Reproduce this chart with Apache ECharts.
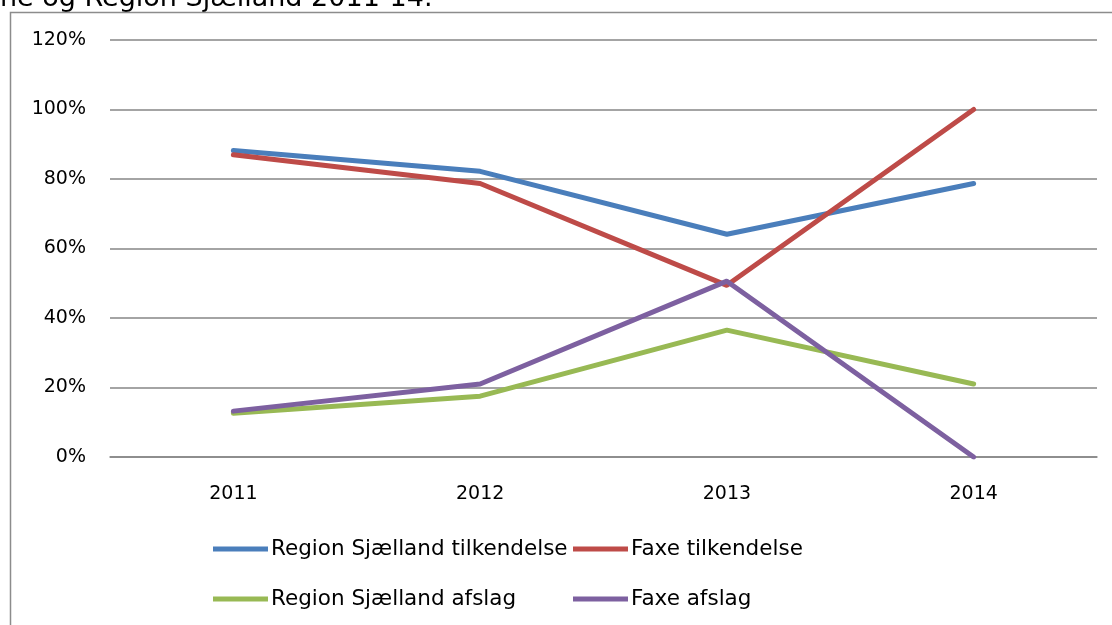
<!DOCTYPE html>
<html>
<head>
<meta charset="utf-8">
<script src="https://cdn.jsdelivr.net/npm/echarts@6/dist/echarts.min.js"></script>
<style>
  html, body { margin: 0; padding: 0; background: #fff; }
  #chart { width: 1112px; height: 625px; }
</style>
</head>
<body>
<div id="chart"></div>
<script>
// kategorier og serier
const years = ["2011", "2012", "2013", "2014"];
const regionTilkendelse = [0.882, 0.822, 0.641, 0.787];
const faxeTilkendelse = [0.87, 0.787, 0.494, 1.0];
const regionAfslag = [0.126, 0.175, 0.365, 0.21];
const faxeAfslag = [0.132, 0.21, 0.506, 0.0];
const seriesNames = [
  "Region Sjælland tilkendelse",
  "Faxe tilkendelse",
  "Region Sjælland afslag",
  "Faxe afslag",
];
const colors = ["#4a7ebb", "#be4b48", "#98b954", "#7d60a0"];

const font = "'DejaVu Sans', Verdana, sans-serif";

let myCharts = echarts.init(document.getElementById("chart"));

// en legend pr. serie, så de står i to rækker og to kolonner
const legendPos = [
  { left: 213, top: 538 },
  { left: 573, top: 538 },
  { left: 213, top: 588 },
  { left: 573, top: 588 },
];
const legends = seriesNames.map((n, i) => ({
  data: [n],
  left: legendPos[i].left,
  top: legendPos[i].top,
  icon: "rect",
  itemWidth: 55,
  itemHeight: 5,
  itemGap: 0,
  padding: 0,
  textStyle: { fontFamily: font, fontSize: 21.5, color: "#000", padding: [0, 0, 0, -2] },
}));

const dataSets = [regionTilkendelse, faxeTilkendelse, regionAfslag, faxeAfslag];

let option = {
  animation: false,
  color: colors,
  graphic: [
    {
      type: "text",
      left: 0,
      top: -15,
      style: {
        text: "ne og Region Sjælland 2011-14.",
        font: "27px " + font,
        fill: "#000",
      },
    },
    {
      type: "rect",
      shape: { x: 10.5, y: 12.5, width: 1200, height: 700 },
      style: { fill: "none", stroke: "#8c8c8c", lineWidth: 1.5 },
      silent: true,
    },
  ],
  legend: legends,
  grid: {
    left: 110,
    right: 15,
    top: 40,
    bottom: 168,
  },
  xAxis: {
    type: "category",
    data: years,
    boundaryGap: true,
    axisLine: { lineStyle: { color: "#868686", width: 1.5 } },
    axisTick: { show: false },
    axisLabel: { fontFamily: font, fontSize: 19, color: "#000", margin: 28 },
  },
  yAxis: {
    type: "value",
    min: 0,
    max: 1.2,
    interval: 0.2,
    axisLine: { show: false },
    axisTick: { show: false },
    axisLabel: {
      fontFamily: font,
      fontSize: 19,
      color: "#000",
      margin: 24,
      formatter: (v) => Math.round(v * 100) + "%",
    },
    splitLine: { lineStyle: { color: "#868686", width: 1.5 } },
  },
  series: seriesNames.map((n, i) => ({
    name: n,
    type: "line",
    data: dataSets[i],
    symbol: "none",
    lineStyle: { width: 5, cap: "round", join: "round" },
  })),
};
myCharts.setOption(option);
</script>
</body>
</html>
